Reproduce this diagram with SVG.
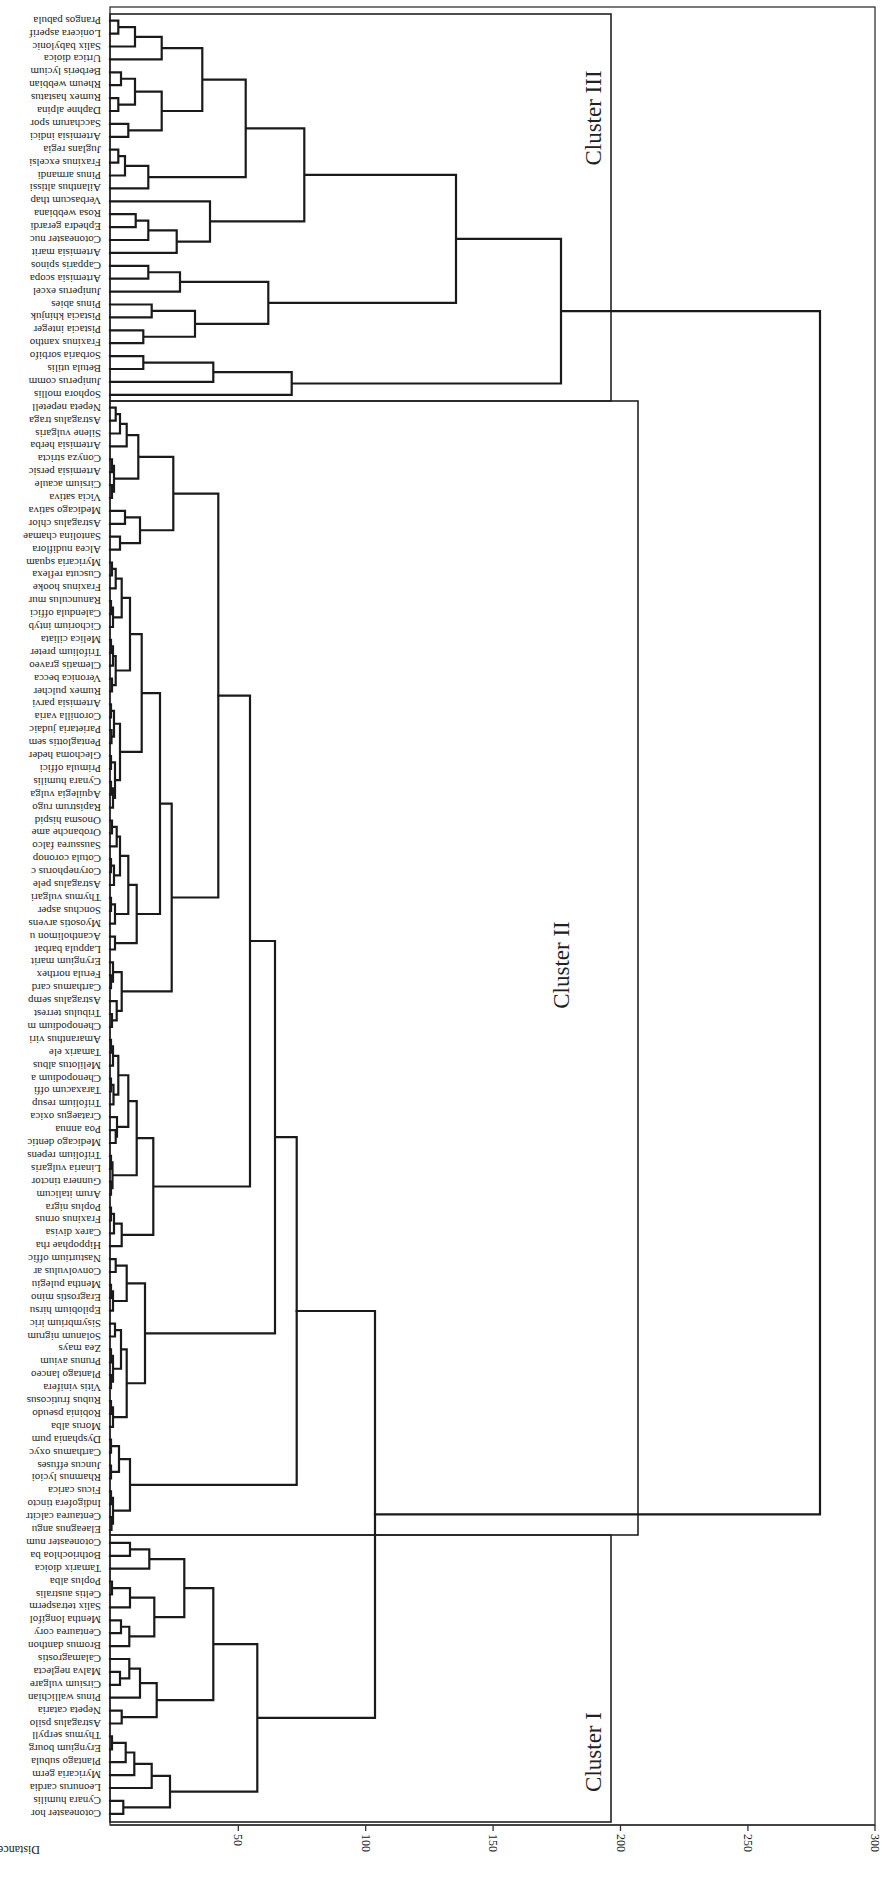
<svg xmlns="http://www.w3.org/2000/svg" width="884" height="1899" viewBox="0 0 884 1899">
<style>
.t{fill:none;stroke:#1a1a1a;stroke-width:2.2;stroke-linejoin:miter;stroke-linecap:square}
.f{fill:none;stroke:#333;stroke-width:1.3}
.b{fill:none;stroke:#222;stroke-width:1.6}
.lb{font-family:"Liberation Serif",serif;font-size:11px;fill:#222;dominant-baseline:central}
.cl{font-family:"Liberation Serif",serif;font-size:23px;fill:#222;text-anchor:middle;dominant-baseline:central}
.tk{font-family:"Liberation Serif",serif;font-size:12px;fill:#222;dominant-baseline:central}
</style>
<rect width="884" height="1899" fill="#fff"/>
<g id="frame">
<rect class="f" x="110" y="7" width="765" height="1818"/>
<rect class="b" x="110" y="14" width="501" height="387"/>
<rect class="b" x="110" y="401" width="528" height="1134"/>
<rect class="b" x="110" y="1535" width="501" height="287"/>
</g>
<g id="axis">
<path class="f" d="M110 1825H875M238.3 1825V1831M365.7 1825V1831M493.1 1825V1831M620.5 1825V1831M747.9 1825V1831M875 1825V1831"/>
<text class="tk" transform="rotate(90 238.3 1834)" x="238.3" y="1834">50</text>
<text class="tk" transform="rotate(90 365.7 1834)" x="365.7" y="1834">100</text>
<text class="tk" transform="rotate(90 493.1 1834)" x="493.1" y="1834">150</text>
<text class="tk" transform="rotate(90 620.5 1834)" x="620.5" y="1834">200</text>
<text class="tk" transform="rotate(90 747.9 1834)" x="747.9" y="1834">250</text>
<text class="tk" transform="rotate(90 875 1834)" x="875" y="1834">300</text>
<text class="tk" transform="rotate(180 40 1850)" x="40" y="1850">Distance</text>
</g>
<g id="cluster-labels">
<text class="cl" transform="rotate(-90 593 118)" x="593" y="118">Cluster III</text>
<text class="cl" transform="rotate(-90 561 965)" x="561" y="965">Cluster II</text>
<text class="cl" transform="rotate(-90 593 1752)" x="593" y="1752">Cluster I</text>
</g>
<g id="connectors">
<path class="t" d="M110 20.7H118.3V33.6H110M118.3 27.15H135V46.5H110M135 36.8H161.7V59.4H110M110 72.3H121V85.2H110M110 98.1H118.3V111H110M121 78.75H135V104.55H118.3M110 123.9H128.3V136.8H110M135 91.65H161.7V130.35H128.3M161.7 48.1H202.3V111H161.7M110 149.7H118.3V162.6H110M118.3 156.15H125V175.5H110M125 165.8H148.3V188.4H110M202.3 79.55H245.7V177.1H148.3M110 214.2H135.7V227.1H110M135.7 220.65H148.3V240H110M148.3 230.3H176.7V252.9H110M110 201.3H210V241.6H176.7M245.7 128.3H304.3V221.45H210M110 265.8H148.3V278.7H110M148.3 272.25H180V291.6H110M110 304.5H151.7V317.4H110M110 330.3H143.3V343.2H110M151.7 310.95H195V336.75H143.3M180 281.9H268.3V323.85H195M110 356.1H143.3V369H110M143.3 362.55H213.3V381.9H110M213.3 372.2H291.7V394.8H110M304.3 174.9H456V302.9H268.3M456 238.9H561V383.5H291.7M561 311.2H820V1514.4H375"/>
<path class="t" d="M110 407.7H115.7V420.6H110M115.7 414.15H120V433.5H110M120 423.8H126.7V446.4H110M110 459.3H112V472.2H110M110 485.1H112V498H110M112 465.75H114V491.55H112M126.7 435.1H138.3V478.65H114M110 510.9H125V523.8H110M110 536.7H120V549.6H110M125 517.35H140V543.15H120M138.3 456.9H173.3V530.25H140M110 562.5H112V575.4H110M112 568.95H115.7V588.3H110M110 601.2H111V614.1H110M111 607.65H113V627H110M115.7 578.6H121.7V617.3H113M110 639.9H111V652.8H110M111 646.35H113V665.7H110M110 678.6H112V691.5H110M113 656H115.7V685.05H112M121.7 597.95H130V670.5H115.7M110 704.4H111V717.3H110M110 730.2H111.5V743.1H110M111 710.85H114V736.65H111.5M110 756H111V768.9H110M110 781.8H111V794.7H110M111 788.25H113V807.6H110M111 762.45H115V797.9H113M114 723.75H120V780.2H115M130 634.2H141.7V751.95H120M110 820.5H112V833.4H110M112 826.95H116.7V846.3H110M110 859.2H111V872.1H110M111 865.65H114V885H110M116.7 836.6H120V875.3H114M110 897.9H111V910.8H110M111 904.35H115V923.7H110M120 855.95H128.3V914H115M110 936.6H115V949.5H110M128.3 884.95H136.7V943.05H115M141.7 693.1H160V914H136.7M110 975.3H111V988.2H110M110 962.4H113V981.75H111M110 1014H112V1026.9H110M110 1001.1H116.7V1020.45H112M113 972.1H121.7V1010.8H116.7M160 803.55H171.7V991.45H121.7M173.3 493.6H218.3V897.5H171.7"/>
<path class="t" d="M110 1039.8H111V1052.7H110M111 1046.25H113V1065.6H110M110 1078.5H111V1091.4H110M111 1084.95H113.5V1104.3H110M113 1055.9H118.3V1094.6H113.5M110 1130.1H115.7V1143H110M110 1117.2H117V1136.55H115.7M118.3 1075.25H128.3V1126.9H117M110 1155.9H111V1168.8H110M110 1181.7H111V1194.6H110M111 1162.35H112.5V1188.15H111M128.3 1101.05H136.7V1175.25H112.5M110 1207.5H111V1220.4H110M111 1213.95H114V1233.3H110M114 1223.6H121.7V1246.2H110M136.7 1138.15H153.3V1234.9H121.7M218.3 695.55H250V1186.5H153.3M110 1259.1H115.7V1272H110M110 1284.9H111V1297.8H110M111 1291.35H113V1310.7H110M115.7 1265.55H126.7V1301H113M110 1323.6H115V1336.5H110M110 1349.4H111V1362.3H110M110 1375.2H111V1388.1H110M111 1355.85H113V1381.65H111M115 1330.05H121V1368.75H113M110 1401H111V1413.9H110M111 1407.45H113V1426.8H110M121 1349.4H126.7V1417.1H113M126.7 1283.3H145V1383.25H126.7M250 941H275V1333.3H145M110 1439.7H111V1452.6H110M110 1465.5H111V1478.4H110M111 1446.15H119V1471.95H111M110 1491.3H111V1504.2H110M110 1517.1H111.5V1530H110M111 1497.75H113V1523.55H111.5M119 1459.05H130V1510.65H113M275 1137.15H296.7V1484.85H130"/>
<path class="t" d="M110 1542.9H130V1555.8H110M130 1549.35H149.3V1568.7H110M110 1581.6H112V1594.5H110M112 1588.05H130V1607.4H110M110 1620.3H121V1633.2H110M121 1626.75H129.3V1646.1H110M130 1597.7H154.3V1636.45H129.3M149.3 1559.05H184.3V1617.1H154.3M110 1671.9H120V1684.8H110M110 1659H129.3V1678.35H120M129.3 1668.7H140V1697.7H110M110 1710.6H121.7V1723.5H110M140 1683.2H156.7V1717.05H121.7M184.3 1588.1H213.3V1700.1H156.7M110 1736.4H112V1749.3H110M112 1742.85H125.7V1762.2H110M125.7 1752.5H134.3V1775.1H110M134.3 1763.8H151.7V1788H110M110 1800.9H123.3V1813.8H110M151.7 1775.9H170V1807.35H123.3M213.3 1644.1H257.3V1791.6H170M296.7 1311H375V1717.85H257.3"/>
</g>
<g id="leaves">
<g id="l0"><text class="lb" transform="rotate(180 101 20.7)" x="101" y="20.7">Prangos pabula</text></g>
<g id="l1"><text class="lb" transform="rotate(180 101 33.6)" x="101" y="33.6">Lonicera asperif</text></g>
<g id="l2"><text class="lb" transform="rotate(180 101 46.5)" x="101" y="46.5">Salix babylonic</text></g>
<g id="l3"><text class="lb" transform="rotate(180 101 59.4)" x="101" y="59.4">Urtica dioica</text></g>
<g id="l4"><text class="lb" transform="rotate(180 101 72.3)" x="101" y="72.3">Berberis lycium</text></g>
<g id="l5"><text class="lb" transform="rotate(180 101 85.2)" x="101" y="85.2">Rheum webbian</text></g>
<g id="l6"><text class="lb" transform="rotate(180 101 98.1)" x="101" y="98.1">Rumex hastatus</text></g>
<g id="l7"><text class="lb" transform="rotate(180 101 111)" x="101" y="111">Daphne alpina</text></g>
<g id="l8"><text class="lb" transform="rotate(180 101 123.9)" x="101" y="123.9">Saccharum spor</text></g>
<g id="l9"><text class="lb" transform="rotate(180 101 136.8)" x="101" y="136.8">Artemisia indici</text></g>
<g id="l10"><text class="lb" transform="rotate(180 101 149.7)" x="101" y="149.7">Juglans regia</text></g>
<g id="l11"><text class="lb" transform="rotate(180 101 162.6)" x="101" y="162.6">Fraxinus excelsi</text></g>
<g id="l12"><text class="lb" transform="rotate(180 101 175.5)" x="101" y="175.5">Pinus armandi</text></g>
<g id="l13"><text class="lb" transform="rotate(180 101 188.4)" x="101" y="188.4">Ailanthus altissi</text></g>
<g id="l14"><text class="lb" transform="rotate(180 101 201.3)" x="101" y="201.3">Verbascum thap</text></g>
<g id="l15"><text class="lb" transform="rotate(180 101 214.2)" x="101" y="214.2">Rosa webbiana</text></g>
<g id="l16"><text class="lb" transform="rotate(180 101 227.1)" x="101" y="227.1">Ephedra gerardi</text></g>
<g id="l17"><text class="lb" transform="rotate(180 101 240)" x="101" y="240">Cotoneaster nuc</text></g>
<g id="l18"><text class="lb" transform="rotate(180 101 252.9)" x="101" y="252.9">Artemisia marit</text></g>
<g id="l19"><text class="lb" transform="rotate(180 101 265.8)" x="101" y="265.8">Capparis spinos</text></g>
<g id="l20"><text class="lb" transform="rotate(180 101 278.7)" x="101" y="278.7">Artemisia scopa</text></g>
<g id="l21"><text class="lb" transform="rotate(180 101 291.6)" x="101" y="291.6">Juniperus excel</text></g>
<g id="l22"><text class="lb" transform="rotate(180 101 304.5)" x="101" y="304.5">Pinus abies</text></g>
<g id="l23"><text class="lb" transform="rotate(180 101 317.4)" x="101" y="317.4">Pistacia khinjuk</text></g>
<g id="l24"><text class="lb" transform="rotate(180 101 330.3)" x="101" y="330.3">Pistacia integer</text></g>
<g id="l25"><text class="lb" transform="rotate(180 101 343.2)" x="101" y="343.2">Fraxinus xantho</text></g>
<g id="l26"><text class="lb" transform="rotate(180 101 356.1)" x="101" y="356.1">Sorbaria sorbifo</text></g>
<g id="l27"><text class="lb" transform="rotate(180 101 369)" x="101" y="369">Betula utilis</text></g>
<g id="l28"><text class="lb" transform="rotate(180 101 381.9)" x="101" y="381.9">Juniperus comm</text></g>
<g id="l29"><text class="lb" transform="rotate(180 101 394.8)" x="101" y="394.8">Sophora mollis</text></g>
<g id="l30"><text class="lb" transform="rotate(180 101 407.7)" x="101" y="407.7">Nepeta nepetell</text></g>
<g id="l31"><text class="lb" transform="rotate(180 101 420.6)" x="101" y="420.6">Astragalus traga</text></g>
<g id="l32"><text class="lb" transform="rotate(180 101 433.5)" x="101" y="433.5">Silene vulgaris</text></g>
<g id="l33"><text class="lb" transform="rotate(180 101 446.4)" x="101" y="446.4">Artemisia herba</text></g>
<g id="l34"><text class="lb" transform="rotate(180 101 459.3)" x="101" y="459.3">Conyza stricta</text></g>
<g id="l35"><text class="lb" transform="rotate(180 101 472.2)" x="101" y="472.2">Artemisia persic</text></g>
<g id="l36"><text class="lb" transform="rotate(180 101 485.1)" x="101" y="485.1">Cirsium acaule</text></g>
<g id="l37"><text class="lb" transform="rotate(180 101 498)" x="101" y="498">Vicia sativa</text></g>
<g id="l38"><text class="lb" transform="rotate(180 101 510.9)" x="101" y="510.9">Medicago sativa</text></g>
<g id="l39"><text class="lb" transform="rotate(180 101 523.8)" x="101" y="523.8">Astragalus chlor</text></g>
<g id="l40"><text class="lb" transform="rotate(180 101 536.7)" x="101" y="536.7">Santolina chamae</text></g>
<g id="l41"><text class="lb" transform="rotate(180 101 549.6)" x="101" y="549.6">Alcea nudiflora</text></g>
<g id="l42"><text class="lb" transform="rotate(180 101 562.5)" x="101" y="562.5">Myricaria squam</text></g>
<g id="l43"><text class="lb" transform="rotate(180 101 575.4)" x="101" y="575.4">Cuscuta reflexa</text></g>
<g id="l44"><text class="lb" transform="rotate(180 101 588.3)" x="101" y="588.3">Fraxinus hooke</text></g>
<g id="l45"><text class="lb" transform="rotate(180 101 601.2)" x="101" y="601.2">Ranunculus mur</text></g>
<g id="l46"><text class="lb" transform="rotate(180 101 614.1)" x="101" y="614.1">Calendula offici</text></g>
<g id="l47"><text class="lb" transform="rotate(180 101 627)" x="101" y="627">Cichorium intyb</text></g>
<g id="l48"><text class="lb" transform="rotate(180 101 639.9)" x="101" y="639.9">Melica ciliata</text></g>
<g id="l49"><text class="lb" transform="rotate(180 101 652.8)" x="101" y="652.8">Trifolium preter</text></g>
<g id="l50"><text class="lb" transform="rotate(180 101 665.7)" x="101" y="665.7">Clematis graveo</text></g>
<g id="l51"><text class="lb" transform="rotate(180 101 678.6)" x="101" y="678.6">Veronica becca</text></g>
<g id="l52"><text class="lb" transform="rotate(180 101 691.5)" x="101" y="691.5">Rumex pulcher</text></g>
<g id="l53"><text class="lb" transform="rotate(180 101 704.4)" x="101" y="704.4">Artemisia parvi</text></g>
<g id="l54"><text class="lb" transform="rotate(180 101 717.3)" x="101" y="717.3">Coronilla varia</text></g>
<g id="l55"><text class="lb" transform="rotate(180 101 730.2)" x="101" y="730.2">Parietaria judaic</text></g>
<g id="l56"><text class="lb" transform="rotate(180 101 743.1)" x="101" y="743.1">Pentaglottis sem</text></g>
<g id="l57"><text class="lb" transform="rotate(180 101 756)" x="101" y="756">Glechoma heder</text></g>
<g id="l58"><text class="lb" transform="rotate(180 101 768.9)" x="101" y="768.9">Primula offici</text></g>
<g id="l59"><text class="lb" transform="rotate(180 101 781.8)" x="101" y="781.8">Cynara humilis</text></g>
<g id="l60"><text class="lb" transform="rotate(180 101 794.7)" x="101" y="794.7">Aquilegia vulga</text></g>
<g id="l61"><text class="lb" transform="rotate(180 101 807.6)" x="101" y="807.6">Rapistrum rugo</text></g>
<g id="l62"><text class="lb" transform="rotate(180 101 820.5)" x="101" y="820.5">Onosma hispid</text></g>
<g id="l63"><text class="lb" transform="rotate(180 101 833.4)" x="101" y="833.4">Orobanche ame</text></g>
<g id="l64"><text class="lb" transform="rotate(180 101 846.3)" x="101" y="846.3">Saussurea falco</text></g>
<g id="l65"><text class="lb" transform="rotate(180 101 859.2)" x="101" y="859.2">Cotula coronop</text></g>
<g id="l66"><text class="lb" transform="rotate(180 101 872.1)" x="101" y="872.1">Corynephorus c</text></g>
<g id="l67"><text class="lb" transform="rotate(180 101 885)" x="101" y="885">Astragalus pele</text></g>
<g id="l68"><text class="lb" transform="rotate(180 101 897.9)" x="101" y="897.9">Thymus vulgari</text></g>
<g id="l69"><text class="lb" transform="rotate(180 101 910.8)" x="101" y="910.8">Sonchus asper</text></g>
<g id="l70"><text class="lb" transform="rotate(180 101 923.7)" x="101" y="923.7">Myosotis arvens</text></g>
<g id="l71"><text class="lb" transform="rotate(180 101 936.6)" x="101" y="936.6">Acantholimon u</text></g>
<g id="l72"><text class="lb" transform="rotate(180 101 949.5)" x="101" y="949.5">Lappula barbat</text></g>
<g id="l73"><text class="lb" transform="rotate(180 101 962.4)" x="101" y="962.4">Eryngium marit</text></g>
<g id="l74"><text class="lb" transform="rotate(180 101 975.3)" x="101" y="975.3">Ferula northex</text></g>
<g id="l75"><text class="lb" transform="rotate(180 101 988.2)" x="101" y="988.2">Carthamus card</text></g>
<g id="l76"><text class="lb" transform="rotate(180 101 1001.1)" x="101" y="1001.1">Astragalus semp</text></g>
<g id="l77"><text class="lb" transform="rotate(180 101 1014)" x="101" y="1014">Tribulus terrest</text></g>
<g id="l78"><text class="lb" transform="rotate(180 101 1026.9)" x="101" y="1026.9">Chenopodium m</text></g>
<g id="l79"><text class="lb" transform="rotate(180 101 1039.8)" x="101" y="1039.8">Amaranthus viri</text></g>
<g id="l80"><text class="lb" transform="rotate(180 101 1052.7)" x="101" y="1052.7">Tamarix ele</text></g>
<g id="l81"><text class="lb" transform="rotate(180 101 1065.6)" x="101" y="1065.6">Melilotus albus</text></g>
<g id="l82"><text class="lb" transform="rotate(180 101 1078.5)" x="101" y="1078.5">Chenopodium a</text></g>
<g id="l83"><text class="lb" transform="rotate(180 101 1091.4)" x="101" y="1091.4">Taraxacum offi</text></g>
<g id="l84"><text class="lb" transform="rotate(180 101 1104.3)" x="101" y="1104.3">Trifolium resup</text></g>
<g id="l85"><text class="lb" transform="rotate(180 101 1117.2)" x="101" y="1117.2">Crataegus oxica</text></g>
<g id="l86"><text class="lb" transform="rotate(180 101 1130.1)" x="101" y="1130.1">Poa annua</text></g>
<g id="l87"><text class="lb" transform="rotate(180 101 1143)" x="101" y="1143">Medicago dentic</text></g>
<g id="l88"><text class="lb" transform="rotate(180 101 1155.9)" x="101" y="1155.9">Trifolium repens</text></g>
<g id="l89"><text class="lb" transform="rotate(180 101 1168.8)" x="101" y="1168.8">Linaria vulgaris</text></g>
<g id="l90"><text class="lb" transform="rotate(180 101 1181.7)" x="101" y="1181.7">Gunnera tinctor</text></g>
<g id="l91"><text class="lb" transform="rotate(180 101 1194.6)" x="101" y="1194.6">Arum italicum</text></g>
<g id="l92"><text class="lb" transform="rotate(180 101 1207.5)" x="101" y="1207.5">Poplus nigra</text></g>
<g id="l93"><text class="lb" transform="rotate(180 101 1220.4)" x="101" y="1220.4">Fraxinus ornus</text></g>
<g id="l94"><text class="lb" transform="rotate(180 101 1233.3)" x="101" y="1233.3">Carex divisa</text></g>
<g id="l95"><text class="lb" transform="rotate(180 101 1246.2)" x="101" y="1246.2">Hippophae rha</text></g>
<g id="l96"><text class="lb" transform="rotate(180 101 1259.1)" x="101" y="1259.1">Nasturtium offic</text></g>
<g id="l97"><text class="lb" transform="rotate(180 101 1272)" x="101" y="1272">Convolvulus ar</text></g>
<g id="l98"><text class="lb" transform="rotate(180 101 1284.9)" x="101" y="1284.9">Mentha pulegiu</text></g>
<g id="l99"><text class="lb" transform="rotate(180 101 1297.8)" x="101" y="1297.8">Eragrostis mino</text></g>
<g id="l100"><text class="lb" transform="rotate(180 101 1310.7)" x="101" y="1310.7">Epilobium hirsu</text></g>
<g id="l101"><text class="lb" transform="rotate(180 101 1323.6)" x="101" y="1323.6">Sisymbrium iric</text></g>
<g id="l102"><text class="lb" transform="rotate(180 101 1336.5)" x="101" y="1336.5">Solanum nigrum</text></g>
<g id="l103"><text class="lb" transform="rotate(180 101 1349.4)" x="101" y="1349.4">Zea mays</text></g>
<g id="l104"><text class="lb" transform="rotate(180 101 1362.3)" x="101" y="1362.3">Prunus avium</text></g>
<g id="l105"><text class="lb" transform="rotate(180 101 1375.2)" x="101" y="1375.2">Plantago lanceo</text></g>
<g id="l106"><text class="lb" transform="rotate(180 101 1388.1)" x="101" y="1388.1">Vitis vinifera</text></g>
<g id="l107"><text class="lb" transform="rotate(180 101 1401)" x="101" y="1401">Rubus fruticosus</text></g>
<g id="l108"><text class="lb" transform="rotate(180 101 1413.9)" x="101" y="1413.9">Robinia pseudo</text></g>
<g id="l109"><text class="lb" transform="rotate(180 101 1426.8)" x="101" y="1426.8">Morus alba</text></g>
<g id="l110"><text class="lb" transform="rotate(180 101 1439.7)" x="101" y="1439.7">Dysphania pum</text></g>
<g id="l111"><text class="lb" transform="rotate(180 101 1452.6)" x="101" y="1452.6">Carthamus oxyc</text></g>
<g id="l112"><text class="lb" transform="rotate(180 101 1465.5)" x="101" y="1465.5">Juncus effuses</text></g>
<g id="l113"><text class="lb" transform="rotate(180 101 1478.4)" x="101" y="1478.4">Rhamnus lycioi</text></g>
<g id="l114"><text class="lb" transform="rotate(180 101 1491.3)" x="101" y="1491.3">Ficus carica</text></g>
<g id="l115"><text class="lb" transform="rotate(180 101 1504.2)" x="101" y="1504.2">Indigofera tincto</text></g>
<g id="l116"><text class="lb" transform="rotate(180 101 1517.1)" x="101" y="1517.1">Centaurea calcitr</text></g>
<g id="l117"><text class="lb" transform="rotate(180 101 1530)" x="101" y="1530">Elaeagnus angu</text></g>
<g id="l118"><text class="lb" transform="rotate(180 101 1542.9)" x="101" y="1542.9">Cotoneaster num</text></g>
<g id="l119"><text class="lb" transform="rotate(180 101 1555.8)" x="101" y="1555.8">Bothriochloa ba</text></g>
<g id="l120"><text class="lb" transform="rotate(180 101 1568.7)" x="101" y="1568.7">Tamarix dioica</text></g>
<g id="l121"><text class="lb" transform="rotate(180 101 1581.6)" x="101" y="1581.6">Poplus alba</text></g>
<g id="l122"><text class="lb" transform="rotate(180 101 1594.5)" x="101" y="1594.5">Celtis australis</text></g>
<g id="l123"><text class="lb" transform="rotate(180 101 1607.4)" x="101" y="1607.4">Salix tetrasperm</text></g>
<g id="l124"><text class="lb" transform="rotate(180 101 1620.3)" x="101" y="1620.3">Mentha longifol</text></g>
<g id="l125"><text class="lb" transform="rotate(180 101 1633.2)" x="101" y="1633.2">Centaurea cory</text></g>
<g id="l126"><text class="lb" transform="rotate(180 101 1646.1)" x="101" y="1646.1">Bromus danthon</text></g>
<g id="l127"><text class="lb" transform="rotate(180 101 1659)" x="101" y="1659">Calamagrostis</text></g>
<g id="l128"><text class="lb" transform="rotate(180 101 1671.9)" x="101" y="1671.9">Malva neglecta</text></g>
<g id="l129"><text class="lb" transform="rotate(180 101 1684.8)" x="101" y="1684.8">Cirsium vulgare</text></g>
<g id="l130"><text class="lb" transform="rotate(180 101 1697.7)" x="101" y="1697.7">Pinus wallichian</text></g>
<g id="l131"><text class="lb" transform="rotate(180 101 1710.6)" x="101" y="1710.6">Nepeta cataria</text></g>
<g id="l132"><text class="lb" transform="rotate(180 101 1723.5)" x="101" y="1723.5">Astragalus psilo</text></g>
<g id="l133"><text class="lb" transform="rotate(180 101 1736.4)" x="101" y="1736.4">Thymus serpyll</text></g>
<g id="l134"><text class="lb" transform="rotate(180 101 1749.3)" x="101" y="1749.3">Eryngium bourg</text></g>
<g id="l135"><text class="lb" transform="rotate(180 101 1762.2)" x="101" y="1762.2">Plantago subula</text></g>
<g id="l136"><text class="lb" transform="rotate(180 101 1775.1)" x="101" y="1775.1">Myricaria germ</text></g>
<g id="l137"><text class="lb" transform="rotate(180 101 1788)" x="101" y="1788">Leonurus cardia</text></g>
<g id="l138"><text class="lb" transform="rotate(180 101 1800.9)" x="101" y="1800.9">Cynara humilis</text></g>
<g id="l139"><text class="lb" transform="rotate(180 101 1813.8)" x="101" y="1813.8">Cotoneaster hor</text></g>
</g>
</svg>
